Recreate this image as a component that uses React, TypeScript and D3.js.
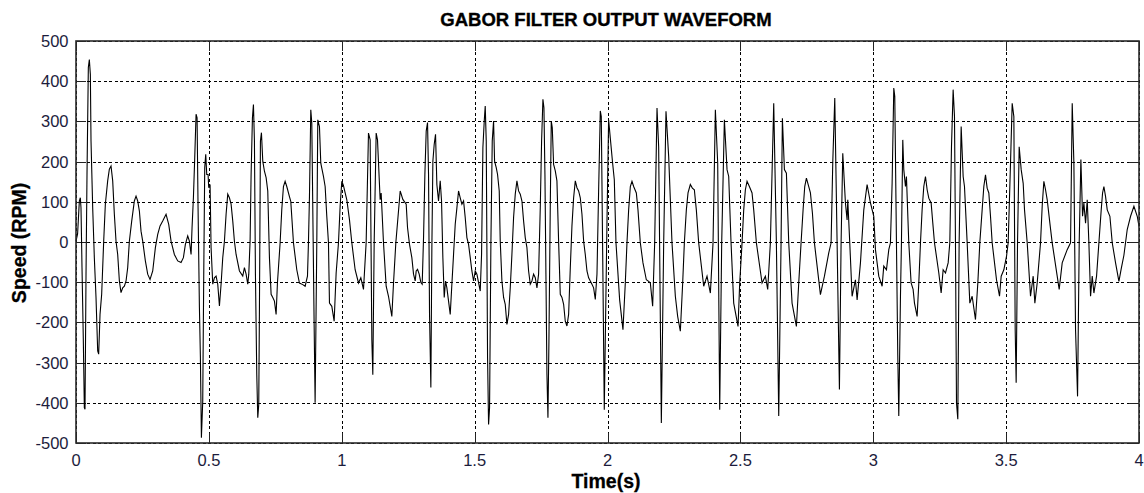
import React from "react";
import * as d3 from "d3";

const TITLE = "GABOR FILTER OUTPUT WAVEFORM";
const X_LABEL = "Time(s)";
const Y_LABEL = "Speed (RPM)";
const X_TICKS = [0, 0.5, 1, 1.5, 2, 2.5, 3, 3.5, 4];
const Y_TICKS = [500, 400, 300, 200, 100, 0, -100, -200, -300, -400, -500];

// [time (s), speed (RPM)], 0 – 0.75 s
const WAVE_A: [number, number][] = [
  [0.0, 2], [0.006, 20], [0.01, 70], [0.0126, 102], [0.0163, 110], [0.0188, 85], [0.0226, -64], [0.0276, -246],
  [0.0314, -412], [0.0339, -416], [0.0377, -80], [0.0414, 168], [0.0464, 434], [0.0502, 454], [0.054, 417],
  [0.0565, 251], [0.0628, 85], [0.069, -39], [0.0753, -138], [0.0816, -271], [0.0853, -279], [0.0904, -180],
  [0.0966, -130], [0.1042, 2], [0.1104, 94], [0.1192, 152], [0.1255, 181], [0.1318, 189], [0.1381, 152],
  [0.1443, 69], [0.1506, 2], [0.1569, -31], [0.1632, -97], [0.1694, -126], [0.1757, -114], [0.182, -110],
  [0.1883, -97], [0.1945, -64], [0.2008, 2], [0.2096, 52], [0.2196, 102], [0.2259, 114], [0.2322, 102],
  [0.2385, 77], [0.2447, 27], [0.251, 2], [0.261, -47], [0.2698, -80], [0.2786, -93], [0.2887, -72],
  [0.2987, -14], [0.3075, 19], [0.3163, 40], [0.3263, 52], [0.3389, 69], [0.3489, 44], [0.3577, 2],
  [0.3702, -31], [0.3828, -47], [0.3953, -51], [0.4041, -39], [0.4116, -6], [0.4204, 15], [0.4267, 2],
  [0.433, -31], [0.4367, 36], [0.4418, 110], [0.4468, 210], [0.4518, 318], [0.4556, 309], [0.4593, 85],
  [0.4644, -163], [0.4681, -288], [0.4719, -487], [0.4769, -396], [0.4807, -80], [0.4844, 185], [0.4882, 218],
  [0.492, 168], [0.497, 168], [0.4995, 135], [0.5045, 143], [0.5083, -14], [0.5146, -105], [0.5208, -89],
  [0.5271, -85], [0.5334, -105], [0.5397, -159], [0.5459, -105], [0.5522, -39], [0.5585, 2], [0.5648, 69],
  [0.571, 119], [0.5773, 110], [0.5836, 94], [0.5899, 52], [0.5961, 2], [0.6024, -31], [0.615, -72],
  [0.6275, -85], [0.6338, -64], [0.6401, -80], [0.6463, -105], [0.6501, -80], [0.6551, 2], [0.6589, 168],
  [0.6639, 309], [0.6677, 342], [0.6714, 251], [0.6752, -80], [0.6802, -329], [0.684, -437], [0.6877, -404],
  [0.6903, -163], [0.694, 251], [0.6978, 272], [0.7028, 201], [0.7091, 176], [0.7154, 160], [0.7216, 127],
  [0.7279, -39], [0.7342, -130], [0.7405, -138], [0.7467, -147], [0.753, -180],
];

// 0.75 – 1.21 s
const WAVE_B: [number, number][] = [
  [0.758, -102], [0.7681, -2], [0.7743, 80], [0.7806, 138], [0.7869, 151], [0.7931, 138], [0.8032, 113],
  [0.8082, 101], [0.8183, -2], [0.8308, -69], [0.8408, -102], [0.8534, -106], [0.8622, -110], [0.871, -85],
  [0.8747, -2], [0.8785, 113], [0.8835, 329], [0.8873, 296], [0.896, -201], [0.8998, -400], [0.9061, -2],
  [0.9098, 304], [0.9161, 287], [0.9211, 196], [0.9312, 163], [0.9375, 138], [0.9437, 64], [0.95, -2],
  [0.9538, -152], [0.9626, -160], [0.9714, -197], [0.9789, -77], [0.9877, -2], [0.994, 90], [1.0002, 151],
  [1.0065, 140], [1.0128, 122], [1.0191, 105], [1.0291, 55], [1.0379, -2], [1.0504, -69], [1.063, -102],
  [1.0718, -89], [1.0818, -118], [1.0918, -2], [1.1006, 271], [1.1069, 254], [1.1132, -243], [1.1169, -330],
  [1.122, -2], [1.1295, 271], [1.1345, 254], [1.1445, 105], [1.1483, 122], [1.1571, -2], [1.1671, -110],
  [1.1759, -135], [1.1885, -185], [1.1948, -102], [1.2035, -2],
];

// 1.22 – 1.97 s
const WAVE_C: [number, number][] = [
  [1.2199, 127], [1.2299, 106], [1.2425, 94], [1.2475, 36], [1.255, -6], [1.2638, -39], [1.2701, -80],
  [1.2764, -97], [1.2801, -72], [1.2852, -68], [1.2914, -80], [1.2977, -101], [1.3027, -105], [1.3078, 11],
  [1.3128, 168], [1.3178, 276], [1.3228, 297], [1.3266, 168], [1.3303, -180], [1.3353, -362], [1.3391, -14],
  [1.3429, 201], [1.3479, 243], [1.3529, 268], [1.3579, 143], [1.3642, 102], [1.3705, 152], [1.3755, 102],
  [1.3805, -39], [1.3856, -138], [1.3906, -97], [1.3956, -114], [1.4019, -147], [1.4082, -180], [1.4144, -105],
  [1.4207, -31], [1.427, 44], [1.4333, 85], [1.4395, 127], [1.4458, 110], [1.4521, 94], [1.4584, 102],
  [1.4646, 61], [1.4709, 11], [1.4772, -6], [1.4835, -39], [1.4897, -72], [1.496, -97], [1.5023, -72],
  [1.5086, -80], [1.5148, -101], [1.5211, -122], [1.5261, -31], [1.5311, 235], [1.5362, 301], [1.5399, 338],
  [1.5437, 251], [1.5487, -288], [1.5525, -454], [1.5562, -412], [1.5613, 2], [1.5663, 251], [1.5713, 301],
  [1.5751, 201], [1.5813, 185], [1.5863, 168], [1.5926, 127], [1.5964, 2], [1.6027, -97], [1.609, -138],
  [1.6152, -155], [1.6215, -205], [1.6278, -180], [1.6341, -114], [1.6403, -31], [1.6466, 61], [1.6529, 119],
  [1.6592, 152], [1.6654, 127], [1.6717, 119], [1.678, 102], [1.6843, 52], [1.6905, 11], [1.6968, -14],
  [1.7031, -72], [1.7094, -105], [1.7156, -97], [1.7219, -80], [1.7282, -89], [1.7345, -114], [1.7407, -80],
  [1.747, 85], [1.752, 251], [1.757, 355], [1.7608, 334], [1.7646, 168], [1.7683, -80], [1.7721, -329],
  [1.7759, -437], [1.7796, -246], [1.7846, 85], [1.7884, 301], [1.7922, 284], [1.7972, 193], [1.8035, 177],
  [1.8097, 152], [1.816, 2], [1.8223, -130], [1.8286, -138], [1.8349, -155], [1.8411, -197], [1.8474, -209],
  [1.8537, -180], [1.86, -64], [1.8662, 40], [1.8725, 110], [1.8788, 152], [1.8851, 135], [1.8913, 127],
  [1.8976, 110], [1.9039, 69], [1.9102, 2], [1.9164, -31], [1.9227, -72], [1.929, -89], [1.9353, -97],
  [1.9415, -105], [1.9478, -114], [1.9541, -143], [1.9604, -80], [1.9666, 127], [1.9729, 326],
];

// 1.97 – 3.06 s
const WAVE_D: [number, number][] = [
  [1.9766, 312], [1.9879, -417], [1.998, 47], [2.0042, 304], [2.0193, 196], [2.0256, 155], [2.0319, -2],
  [2.0457, -144], [2.0582, -218], [2.067, -102], [2.0733, -2], [2.0796, 80], [2.0859, 138], [2.0921, 151],
  [2.0984, 138], [2.1085, 122], [2.1147, 80], [2.1235, -2], [2.1335, -52], [2.1461, -94], [2.1549, -98],
  [2.1612, -102], [2.1699, -160], [2.1775, -2], [2.1863, 333], [2.1925, 237], [2.2026, -450], [2.2114, -2],
  [2.2201, 325], [2.2302, 213], [2.2427, -2], [2.2553, -135], [2.264, -185], [2.2741, -222], [2.2829, -102],
  [2.2892, -2], [2.2967, 80], [2.303, 122], [2.3117, 143], [2.3193, 134], [2.3268, 130], [2.3343, 80],
  [2.3431, -2], [2.362, -110], [2.3745, -85], [2.3871, -127], [2.3971, -2], [2.4059, 329], [2.4147, 196],
  [2.4222, -417], [2.4297, -2], [2.4398, 304], [2.4498, 180], [2.4561, 163], [2.4649, -2], [2.4749, -152],
  [2.4912, -210], [2.4975, -102], [2.5063, -2], [2.5126, 80], [2.5188, 130], [2.5251, 151], [2.5339, 138],
  [2.5439, 122], [2.5502, 80], [2.5602, -2], [2.5816, -102], [2.5941, -85], [2.6029, -118], [2.6129, -2],
  [2.6255, 345], [2.6355, -2], [2.6443, -433], [2.6531, -2], [2.6581, 308], [2.6657, 180], [2.6732, 171],
  [2.682, -2], [2.6945, -152], [2.7108, -210], [2.7196, -102], [2.7284, -2], [2.736, 80], [2.7422, 138],
  [2.7485, 159], [2.7573, 138], [2.7636, 122], [2.7711, 72], [2.7786, -2], [2.8012, -131], [2.8163, -85],
  [2.8326, -27], [2.8414, -2], [2.8476, 196], [2.8552, 358], [2.864, -2], [2.8727, -367], [2.879, -2],
  [2.8853, 221], [2.8953, 97], [2.9016, 55], [2.9041, 105], [2.9116, -2], [2.9204, -135], [2.933, -94],
  [2.9393, -144], [2.9518, -52], [2.9644, 80], [2.9769, 143], [2.9895, 97], [3.002, 64], [3.0083, -19],
  [3.0208, -85], [3.0334, -110], [3.0396, -60], [3.0497, -69], [3.0585, -19],
];

// 3.06 – 4.0 s
const WAVE_E: [number, number][] = [
  [3.0647, -2], [3.071, 146], [3.0773, 383], [3.081, 362], [3.0873, -2], [3.0923, -282], [3.0961, -433],
  [3.1024, -135], [3.1061, -2], [3.1111, 254], [3.1149, 180], [3.1212, 138], [3.1249, 163], [3.1337, -2],
  [3.1425, -102], [3.15, -118], [3.1551, -152], [3.1651, -185], [3.1714, -102], [3.1777, -2], [3.1839, 80],
  [3.1902, 138], [3.1965, 163], [3.2028, 130], [3.209, 109], [3.2178, 97], [3.2241, 47], [3.2304, -2],
  [3.2467, -77], [3.2555, -127], [3.263, -69], [3.2718, -77], [3.2818, -52], [3.2881, -2], [3.2944, 237],
  [3.3006, 379], [3.3057, 312], [3.3094, -2], [3.3132, -400], [3.3182, -441], [3.3232, -2], [3.3308, 287],
  [3.3383, 163], [3.3433, 138], [3.3534, -2], [3.3634, -152], [3.3722, -135], [3.3847, -193], [3.3935, -102],
  [3.401, -2], [3.4098, 80], [3.4161, 138], [3.4224, 167], [3.4286, 134], [3.4349, 122], [3.4412, 64],
  [3.4475, -2], [3.4638, -94], [3.4751, -135], [3.4814, -85], [3.4914, -69], [3.5014, -36], [3.5077, -2],
  [3.5165, 196], [3.5228, 345], [3.5291, 312], [3.5341, -218], [3.5378, -350], [3.5429, -2], [3.5491, 237],
  [3.5567, 180], [3.5642, 146], [3.5692, 80], [3.5793, -2], [3.5918, -135], [3.6018, -85], [3.6081, -152],
  [3.6169, -102], [3.6295, -2], [3.6358, 90], [3.642, 151], [3.6483, 130], [3.6546, 105], [3.6646, 47],
  [3.6734, -2], [3.6922, -85], [3.6997, -118], [3.711, -52], [3.7298, -19], [3.7424, -2], [3.7487, 345],
  [3.755, 196], [3.7612, -218], [3.7688, -384], [3.775, -2], [3.7813, 205], [3.7876, 64], [3.7926, 97],
  [3.7989, 47], [3.8052, 105], [3.8114, -2], [3.8177, -135], [3.824, -85], [3.8303, -127], [3.8403, -85],
  [3.8491, -2], [3.8578, 80], [3.8629, 122], [3.8679, 138], [3.8742, 113], [3.8805, 80], [3.8905, 64],
  [3.8993, -2], [3.9118, -52], [3.9244, -98], [3.9332, -66], [3.9432, -33], [3.9557, 31], [3.9683, 64],
  [3.9809, 89], [3.9934, 64], [4.0, 39],
];

const W = 1144;
const H = 493;
const LEFT = 76;
const RIGHT = 1139;
const TOP = 41;
const BOTTOM = 443;
const FONT = "'Liberation Sans', Arial, Helvetica, sans-serif";

export default function App() {
  const x = d3.scaleLinear().domain([0, 4]).range([LEFT, RIGHT]);
  const y = d3.scaleLinear().domain([-500, 500]).range([BOTTOM, TOP]);
  const pts: [number, number][] = [...WAVE_A, ...WAVE_B, ...WAVE_C, ...WAVE_D, ...WAVE_E];
  const line = d3
    .line<[number, number]>()
    .x((d) => x(d[0]))
    .y((d) => y(d[1]));
  const tickLen = 10;
  const tickColor = "#1c1c3c";
  const snap = (v: number) => Math.round(v) + 0.5;

  return (
    <svg
      width={W}
      height={H}
      style={{ position: "absolute", left: 0, top: 0, background: "#fff" }}
    >
      <rect x={0} y={0} width={W} height={H} fill="#fff" />
      <g stroke="#000" strokeWidth={1} strokeDasharray="3,2.5" shapeRendering="crispEdges">
        {Y_TICKS.map((v) => (
          <line key={"gy" + v} x1={LEFT} x2={RIGHT} y1={snap(y(v))} y2={snap(y(v))} />
        ))}
        {X_TICKS.map((v) => (
          <line key={"gx" + v} y1={TOP} y2={BOTTOM} x1={snap(x(v))} x2={snap(x(v))} />
        ))}
      </g>
      <g stroke="#222" strokeWidth={1} shapeRendering="crispEdges">
        {Y_TICKS.map((v) => (
          <g key={"ty" + v}>
            <line x1={LEFT} x2={LEFT + tickLen} y1={snap(y(v))} y2={snap(y(v))} />
            <line x1={RIGHT - tickLen} x2={RIGHT} y1={snap(y(v))} y2={snap(y(v))} />
          </g>
        ))}
        {X_TICKS.map((v) => (
          <g key={"tx" + v}>
            <line y1={BOTTOM} y2={BOTTOM - tickLen} x1={snap(x(v))} x2={snap(x(v))} />
            <line y1={TOP} y2={TOP + tickLen} x1={snap(x(v))} x2={snap(x(v))} />
          </g>
        ))}
      </g>
      <path d={line(pts) || ""} fill="none" stroke="#000" strokeWidth={1.1} strokeLinejoin="miter" />
      <rect
        x={LEFT}
        y={TOP}
        width={RIGHT - LEFT}
        height={BOTTOM - TOP}
        fill="none"
        stroke="#2a2a2a"
        strokeWidth={1.6}
      />
      <g fontFamily={FONT} fontSize={16.5} fill={tickColor}>
        {Y_TICKS.map((v) => (
          <text key={"ly" + v} x={LEFT - 7.5} y={y(v) + 6} textAnchor="end">
            {String(v)}
          </text>
        ))}
        {X_TICKS.map((v) => (
          <text key={"lx" + v} x={x(v)} y={466} textAnchor="middle">
            {String(v)}
          </text>
        ))}
      </g>
      <text
        x={606}
        y={26}
        textAnchor="middle"
        fontFamily={FONT}
        fontWeight="bold"
        fontSize={18.5}
        fill="#000"
        stroke="#000"
        strokeWidth={0.35}
      >
        {TITLE}
      </text>
      <text
        x={606}
        y={487.5}
        textAnchor="middle"
        fontFamily={FONT}
        fontWeight="bold"
        fontSize={19.5}
        fill="#000"
        stroke="#000"
        strokeWidth={0.3}
      >
        {X_LABEL}
      </text>
      <text
        transform="translate(25.5,243) rotate(-90)"
        textAnchor="middle"
        fontFamily={FONT}
        fontWeight="bold"
        fontSize={19.5}
        fill="#000"
        stroke="#000"
        strokeWidth={0.3}
      >
        {Y_LABEL}
      </text>
    </svg>
  );
}
